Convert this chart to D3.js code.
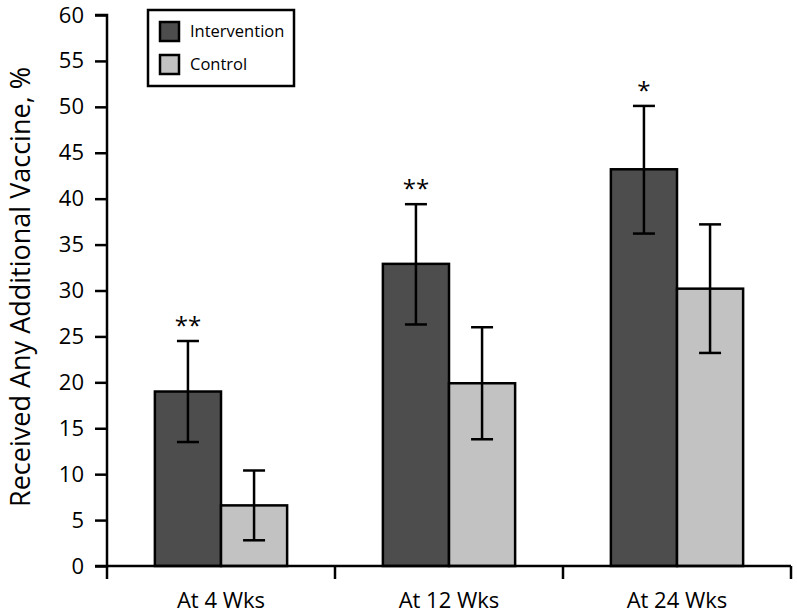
<!DOCTYPE html>
<html><head><meta charset="utf-8">
<script src="https://cdn.jsdelivr.net/npm/d3@7"></script>
<style>body{margin:0;background:#fff}svg{display:block}text{font-family:"Open Sans",sans-serif}</style>
</head><body><svg id="c" width="797" height="615"></svg>
<script>
const categories = ["At 4 Wks", "At 12 Wks", "At 24 Wks"];
const series = ["Intervention", "Control"];
const intervention = [19.0, 32.9, 43.2];
const interventionLow = [13.5, 26.3, 36.2];
const interventionHigh = [24.5, 39.4, 50.1];
const control = [6.6, 19.9, 30.2];
const controlLow = [2.8, 13.8, 23.2];
const controlHigh = [10.4, 26.0, 37.2];
const significance = ["**", "**", "*"];
const yTicks = [0,5,10,15,20,25,30,35,40,45,50,55,60];
const colors = {Intervention: "#4d4d4d", Control: "#c2c2c2"};

const svg = d3.select("#c");
const x0 = 107, x1 = 791, yTop = 15, yBot = 566;
const x = d3.scaleBand().domain(categories).range([x0, x1]).paddingInner(0).paddingOuter(0);
const y = d3.scaleLinear().domain([0, 60]).range([yBot, yTop]);
const barW = x.bandwidth() * 0.29;
const xs = d3.scaleBand().domain(series).range([0, barW * 2]);

const data = categories.map((c, i) => ({
  cat: c,
  bars: [
    {s: "Intervention", v: intervention[i], lo: interventionLow[i], hi: interventionHigh[i]},
    {s: "Control", v: control[i], lo: controlLow[i], hi: controlHigh[i]}
  ],
  sig: significance[i]
}));

const g = svg.append("g");
const groups = g.selectAll(".grp").data(data).join("g")
  .attr("transform", d => `translate(${x(d.cat) + x.bandwidth()/2 - barW},0)`);

groups.selectAll("rect").data(d => d.bars).join("rect")
  .attr("x", d => xs(d.s)).attr("width", xs.bandwidth())
  .attr("y", d => y(d.v)).attr("height", d => y(0) - y(d.v))
  .attr("fill", d => colors[d.s]).attr("stroke", "#000").attr("stroke-width", 2.5);

const cap = 11;
groups.selectAll(".err").data(d => d.bars).join("g").attr("class", "err")
  .each(function(d) {
    const cx = xs(d.s) + xs.bandwidth()/2;
    const e = d3.select(this);
    e.append("line").attr("x1", cx).attr("x2", cx).attr("y1", y(d.lo)).attr("y2", y(d.hi));
    e.append("line").attr("x1", cx - cap).attr("x2", cx + cap).attr("y1", y(d.hi)).attr("y2", y(d.hi));
    e.append("line").attr("x1", cx - cap).attr("x2", cx + cap).attr("y1", y(d.lo)).attr("y2", y(d.lo));
  })
  .selectAll("line").attr("stroke", "#000").attr("stroke-width", 2.5);

groups.append("text")
  .attr("x", xs("Intervention") + xs.bandwidth()/2)
  .attr("y", d => y(d.bars[0].hi) - 7)
  .attr("text-anchor", "middle").attr("font-size", 24).attr("fill", "#000")
  .text(d => d.sig);

// Y axis
const yAxis = d3.axisLeft(y).tickValues(yTicks).tickSize(12).tickPadding(11).tickFormat(d3.format("d"));
const ya = svg.append("g").attr("transform", `translate(${x0},0)`).call(yAxis);
ya.select(".domain").attr("stroke", "#000").attr("stroke-width", 2.5).attr("d", `M-12,${yTop}H0V${yBot}H-12`);
ya.selectAll(".tick line").attr("stroke", "#000").attr("stroke-width", 2.5);
ya.selectAll(".tick text").attr("font-size", 22).attr("fill", "#000");

// X axis
const xa = svg.append("g").attr("transform", `translate(0,${yBot})`);
xa.append("line").attr("x1", x0).attr("x2", x1).attr("y1", 0).attr("y2", 0).attr("stroke", "#000").attr("stroke-width", 2.5);
const bounds = categories.map(c => x(c)).concat([x1]);
xa.selectAll(".xt").data(bounds).join("line").attr("class", "xt")
  .attr("x1", d => d).attr("x2", d => d).attr("y1", 0).attr("y2", 13)
  .attr("stroke", "#000").attr("stroke-width", 2.5);
xa.selectAll(".xl").data(categories).join("text").attr("class", "xl")
  .attr("x", d => x(d) + x.bandwidth()/2).attr("y", 42)
  .attr("text-anchor", "middle").attr("font-size", 22).attr("fill", "#000").text(d => d);

// Y title
svg.append("text").attr("transform", "translate(30,287) rotate(-90)")
  .attr("text-anchor", "middle").attr("font-size", 27).attr("fill", "#000")
  .text("Received Any Additional Vaccine, %");

// Legend
const lg = svg.append("g").attr("transform", "translate(148,10)");
lg.append("rect").attr("width", 146).attr("height", 76).attr("fill", "#fff").attr("stroke", "#000").attr("stroke-width", 2.5);
series.forEach((s, i) => {
  lg.append("rect").attr("x", 12).attr("y", 12 + i*33).attr("width", 19).attr("height", 19)
    .attr("fill", colors[s]).attr("stroke", "#000").attr("stroke-width", 2.5);
  lg.append("text").attr("x", 42).attr("y", 27 + i*33).attr("font-size", 16.5).attr("fill", "#000").text(s);
});
</script></body></html>
